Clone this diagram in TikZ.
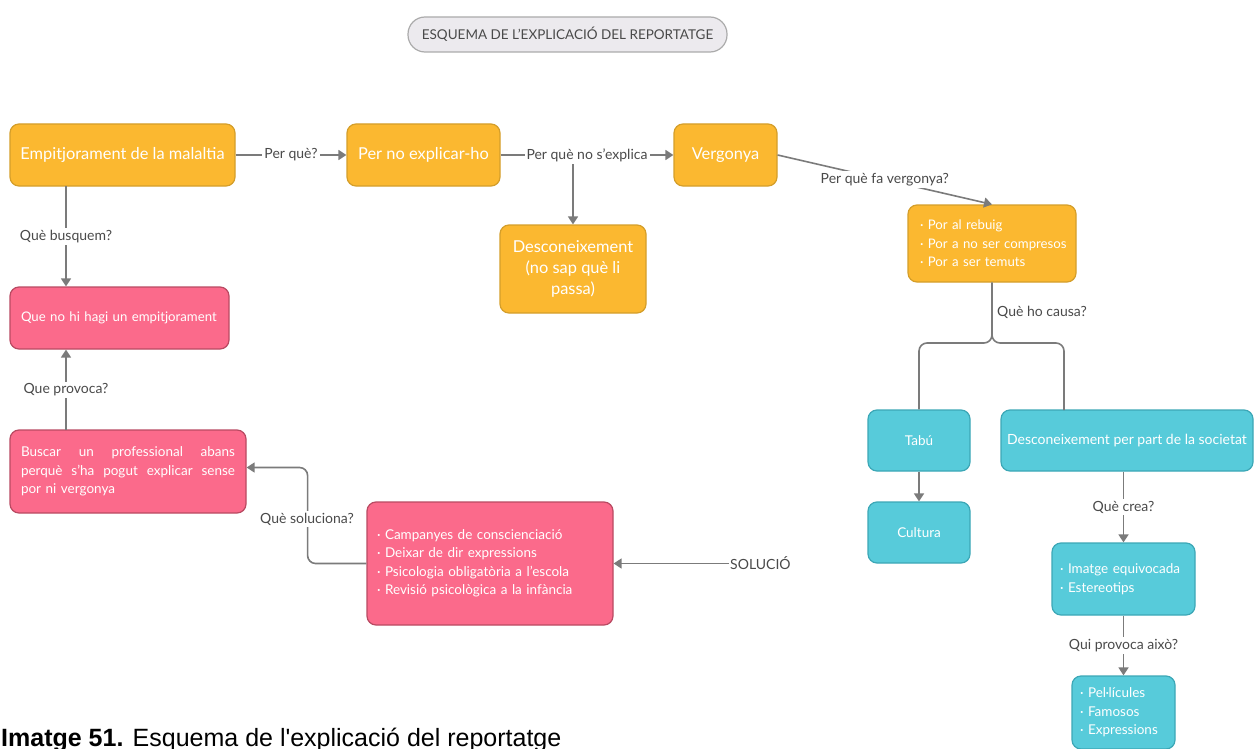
\documentclass[tikz,border=0pt]{standalone}
\usepackage{fontspec}
\setmainfont{Lato}
\newfontfamily\capfont{Liberation Sans}
\usetikzlibrary{arrows.meta,calc}
\definecolor{orfill}{HTML}{FBB830}
\definecolor{ordraw}{HTML}{D49E2A}
\definecolor{pkfill}{HTML}{FB6A8B}
\definecolor{pkdraw}{HTML}{B94A62}
\definecolor{cyfill}{HTML}{57CBDA}
\definecolor{cydraw}{HTML}{3CA7B6}
\definecolor{lncol}{HTML}{7B7B7B}
\definecolor{lbcol}{HTML}{4A4A4A}
\definecolor{tifill}{HTML}{ECEAEE}
\definecolor{tidraw}{HTML}{ABABAB}
\tikzset{
  box/.style={rounded corners=9pt, line width=1.2pt, text=white, inner sep=0pt, align=center},
  orbox/.style={box, fill=orfill, draw=ordraw},
  pkbox/.style={box, fill=pkfill, draw=pkdraw},
  cybox/.style={box, fill=cyfill, draw=cydraw},
  big/.style={font=\fontsize{16.4}{21}\selectfont},
  small/.style={font=\fontsize{13.5}{18.5}\selectfont},
  conn/.style={draw=lncol, line width=1.6pt},
  arr/.style={conn, -{Triangle[width=10pt,length=8pt]}},
  lbl/.style={fill=white, text=lbcol, inner sep=2pt, font=\fontsize{14}{16}\selectfont},
}
\begin{document}
\begin{tikzpicture}[x=1pt,y=-1pt]
\useasboundingbox (0,0) rectangle (1255,749);
% title
\node[rounded corners=17pt, fill=tifill, draw=tidraw, line width=1.2pt, minimum width=319pt, minimum height=35pt, text=lbcol, font=\fontsize{13.5}{15}\selectfont] (title) at (567.5,34.5) {ESQUEMA DE L'EXPLICACIÓ\ DEL REPORTATGE};
% orange nodes
\node[orbox, big, minimum width=225pt, minimum height=62pt] (emp) at (122.5,155) {Empitjorament de la malaltia};
\node[orbox, big, minimum width=153pt, minimum height=62pt] (pne) at (423.5,155) {Per no explicar-ho};
\node[orbox, big, minimum width=103pt, minimum height=62pt] (verg) at (725.5,155) {Vergonya};
\node[orbox, big, minimum width=146pt, minimum height=88pt] (desc) at (573,269) {Desconeixement\\(no sap què li\\passa)};
\node[orbox, font=\fontsize{13.2}{18.5}\selectfont, minimum width=168pt, minimum height=77pt, align=left, text width=144pt] (por) at (992,243.5) {\mbox{· Por al rebuig}\\\mbox{· Por a no ser compresos}\\\mbox{· Por a ser temuts}};
% pink nodes
\node[pkbox, font=\fontsize{13.2}{18.5}\selectfont, minimum width=219pt, minimum height=62pt, align=left, text width=197pt] (que) at (119.5,318) {\mbox{Que no hi hagi un empitjorament}};
\node[pkbox, small, minimum width=236pt, minimum height=83pt, align=left, text width=214pt] (busc) at (128,471.5) {Buscar\hfill un\hfill professional\hfill abans\\perquè\hfill s'ha\hfill pogut\hfill explicar\hfill sense\\por ni vergonya};
\node[pkbox, small, minimum width=246pt, minimum height=123pt, align=left, text width=226pt] (camp) at (490,563.5) {· Campanyes de conscienciació\\· Deixar de dir expressions\\· Psicologia obligatòria a l'escola\\· Revisió psicològica a la infància};
% cyan nodes
\node[cybox, small, minimum width=102pt, minimum height=61pt] (tabu) at (919,440.5) {Tabú};
\node[cybox, small, font=\fontsize{14}{18}\selectfont, minimum width=252pt, minimum height=61pt] (dsoc) at (1127,440.5) {Desconeixement per part de la societat};
\node[cybox, small, minimum width=102pt, minimum height=61pt] (cult) at (919,532.5) {Cultura};
\node[cybox, small, minimum width=143pt, minimum height=72pt, align=left, text width=127pt] (imat) at (1123.5,579) {· Imatge equivocada\\· Estereotips};
\node[cybox, small, minimum width=103pt, minimum height=73pt, align=left, text width=87pt] (pel) at (1123.5,712.5) {· Pel·lícules\\· Famosos\\· Expressions};
% connectors top row
\draw[arr] (emp.east) -- (pne.west) node[lbl, midway] {Per què?};
\draw[arr] (pne.east) -- (verg.west) node[lbl, midway] (l2) {Per què no s'explica};
\draw[arr] (desc.north |- l2.south) -- (desc.north);
\draw[arr] (verg.east) -- (por.north) node[lbl, midway] {Per què fa vergonya?};
% causes
\coordinate (j) at (992,343);
\coordinate (dsocin) at (1064,410);
\draw[conn, rounded corners=8pt] (por.south) -- (j) -| (tabu.north);
\draw[conn, rounded corners=8pt] (por.south) -- (j) -| (dsocin);
\node[lbl, fill=none, anchor=west] (l3) at (995,312) {Què ho causa?};
\draw[arr] (tabu.south) -- (cult.north);
\draw[arr] (imat.north |- dsoc.south) -- (imat.north) node[lbl, midway] {Què crea?};
\draw[arr] (imat.south) -- (pel.north) node[lbl, midway] {Qui provoca això?};
% left column
\coordinate (a1) at (66,186);
\coordinate (a2) at (66,430);
\draw[arr] (a1) -- (a1 |- que.north) node[lbl, midway] {Què busquem?};
\draw[arr] (a2) -- (a2 |- que.south) node[lbl, midway] {Que provoca?};
\draw[arr, rounded corners=8pt] (camp.west) -| ($(busc.east)+(61,-4)$) -- ($(busc.east)+(0,-4)$);
\node[lbl] (l4) at (307,519) {Què soluciona?};
\node[text=lbcol, font=\fontsize{14}{16}\selectfont, anchor=west, inner sep=1pt] (sol) at (729,563.5) {SOLUCIÓ};
\draw[arr] (sol.west) -- (camp.east);
% caption
\node[anchor=base west, inner sep=0pt, font=\capfont\fontsize{25}{28}\selectfont] (cap) at (1,746) {\textbf{Imatge 51.} Esquema de l'explicació del reportatge};
\end{tikzpicture}
\end{document}
